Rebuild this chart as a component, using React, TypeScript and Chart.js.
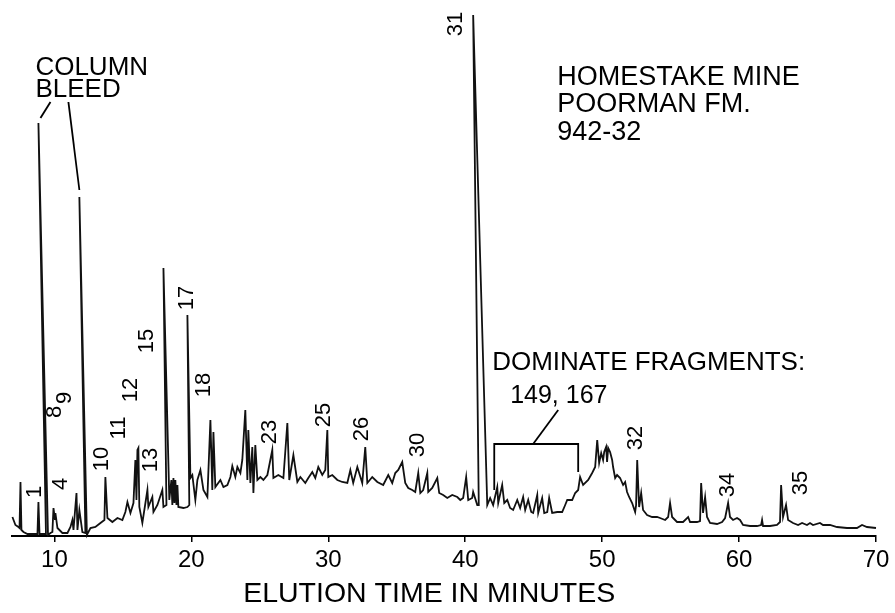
import React, { useEffect, useRef } from 'react';
import { Chart, registerables } from 'chart.js';

Chart.register(...registerables);

const FONT = '"Liberation Sans", Arial, Helvetica, sans-serif';

// x-axis tick labels (minutes)
const xTicks = [10, 20, 30, 40, 50, 60, 70];

// elution time (minutes) of each traced point of the chromatogram
const elutionMinutes = [
  6.93, 7.15, 7.37, 7.45, 7.52, 7.59, 7.74, 8.03, 8.47, 8.76,
  8.83, 8.91, 9.12, 9.38, 8.83, 9.53, 9.71, 9.85, 9.93, 10.04,
  10.07, 10.22, 10.58, 10.95, 11.17, 11.31, 11.39, 11.61, 11.68, 11.82,
  12.04, 12.26, 11.82, 12.37, 12.63, 12.99, 13.36, 13.65, 13.72, 13.87,
  14.23, 14.6, 14.96, 15.18, 15.33, 15.55, 15.77, 15.91, 15.99, 16.06,
  16.13, 16.2, 16.42, 16.79, 16.86, 17.15, 17.23, 17.52, 17.88, 17.96,
  18.18, 17.96, 18.39, 18.54, 18.61, 18.69, 18.76, 18.83, 18.91, 18.98,
  19.05, 19.42, 19.71, 19.85, 19.71, 19.93, 20.07, 20.29, 20.44, 20.66,
  20.88, 21.17, 21.39, 21.53, 21.61, 21.75, 22.12, 22.34, 22.63, 22.85,
  22.99, 23.21, 23.36, 23.58, 23.72, 23.94, 24.09, 24.16, 24.31, 24.45,
  24.53, 24.67, 24.82, 25.04, 25.26, 25.55, 25.91, 25.99, 26.35, 26.72,
  27.01, 27.15, 27.45, 27.74, 27.96, 28.32, 28.54, 28.83, 29.05, 29.27,
  29.56, 29.78, 29.93, 30.0, 30.29, 30.66, 31.02, 31.39, 31.61, 31.82,
  32.12, 32.48, 32.7, 32.85, 33.21, 33.58, 34.01, 34.38, 34.67, 34.89,
  35.11, 35.4, 35.62, 35.84, 36.13, 36.35, 36.57, 36.72, 36.93, 37.23,
  37.3, 37.59, 37.96, 38.1, 38.39, 38.69, 39.05, 39.42, 39.64, 39.85,
  40.07, 40.22, 40.51, 40.58, 40.88, 40.99, 40.58, 41.61, 41.82, 42.04,
  42.34, 42.41, 42.7, 42.85, 43.07, 43.28, 43.5, 43.8, 44.01, 44.23,
  44.38, 44.6, 44.82, 44.96, 45.26, 45.33, 45.62, 45.77, 45.99, 46.13,
  46.35, 46.72, 47.08, 47.3, 47.45, 47.81, 48.03, 48.25, 48.39, 48.61,
  48.98, 49.27, 49.49, 49.64, 49.78, 49.93, 50.07, 50.15, 50.29, 50.36,
  50.44, 50.58, 50.73, 50.8, 50.95, 51.09, 51.31, 51.53, 51.68, 51.82,
  51.97, 52.19, 52.41, 52.48, 52.56, 52.7, 52.85, 52.99, 53.28, 53.65,
  54.01, 54.23, 54.6, 54.82, 54.96, 55.11, 55.47, 55.91, 56.28, 56.42,
  56.93, 57.15, 57.23, 57.37, 57.52, 57.66, 57.88, 58.39, 58.76, 58.98,
  59.2, 59.34, 59.56, 59.85, 60.07, 60.29, 60.8, 61.31, 61.61, 61.68,
  61.75, 62.26, 62.77, 62.99, 63.07, 63.21, 63.43, 63.58, 63.94, 64.31,
  64.6, 64.96, 65.18, 65.4, 65.91, 66.13, 66.64, 67.15, 67.88, 68.61,
  68.98, 69.34, 70.0,
];

// detector response (arbitrary units) at each traced point
const detectorResponse = [
  19, 11, 9, 8, 54, 6, 4, 2, 2, 2,
  34, 2, 2, 2, 413, 1, 3, 4, 28, 16,
  23, 8, 3, 3, 9, 16, 6, 43, 6, 26,
  4, 3, 339, 1, 8, 9, 13, 16, 59, 18,
  14, 18, 16, 24, 34, 23, 33, 76, 36, 86,
  88, 29, 13, 46, 29, 39, 24, 31, 46, 29,
  31, 268, 36, 56, 31, 58, 33, 56, 31, 51,
  29, 28, 29, 31, 221, 58, 61, 36, 56, 66,
  46, 39, 116, 46, 104, 49, 56, 49, 51, 59,
  70, 59, 69, 63, 76, 126, 56, 106, 53, 89,
  43, 91, 56, 59, 56, 61, 86, 58, 61, 58,
  113, 56, 81, 54, 59, 53, 58, 64, 58, 69,
  61, 66, 106, 59, 61, 56, 54, 53, 66, 53,
  69, 53, 89, 53, 59, 54, 51, 61, 53, 63,
  66, 74, 53, 48, 46, 44, 63, 43, 46, 63,
  44, 48, 58, 43, 41, 38, 41, 39, 36, 38,
  59, 36, 38, 44, 31, 31, 521, 31, 38, 31,
  49, 33, 51, 33, 36, 28, 26, 36, 28, 39,
  26, 36, 24, 23, 41, 23, 38, 23, 24, 38,
  23, 24, 24, 31, 36, 36, 43, 46, 59, 51,
  56, 63, 69, 96, 73, 83, 76, 84, 89, 74,
  88, 84, 76, 69, 58, 61, 58, 51, 54, 44,
  39, 33, 24, 31, 76, 29, 43, 26, 21, 19,
  19, 18, 16, 19, 33, 19, 14, 14, 19, 14,
  14, 15, 53, 23, 39, 19, 13, 12, 14, 18,
  33, 19, 16, 18, 16, 11, 10, 10, 11, 16,
  10, 10, 11, 14, 51, 19, 31, 16, 13, 11,
  13, 11, 13, 11, 13, 11, 11, 9, 8, 8,
  11, 9, 8,
];

// peak numbers written beside the trace
const peakNames = ['1', '4', '8', '9', '10', '11', '12', '13', '15', '17', '18', '23', '25', '26', '30', '31', '32', '34', '35'];
const bleedLines = ['COLUMN', 'BLEED'];
const sampleLines = ['HOMESTAKE MINE', 'POORMAN FM.', '942-32'];
const fragmentLines = ['DOMINATE FRAGMENTS:', '149, 167'];
const axisTitle = 'ELUTION TIME IN MINUTES';

export default function App() {
  const canvasRef = useRef<HTMLCanvasElement | null>(null);

  useEffect(() => {
    const canvas = canvasRef.current;
    if (!canvas) return;

    // annotation placement, in data coordinates [minutes, response]
    const peakLabelAt: [number, number][] = [
      [8.54, 44], [10.51, 52], [10.07, 124], [10.8, 138], [13.5, 77], [14.74, 108],
      [15.55, 146], [17.08, 76], [16.72, 195], [19.71, 238], [20.95, 151], [25.77, 104],
      [29.71, 121], [32.48, 107], [36.57, 91], [39.34, 512], [52.48, 98], [59.2, 51], [64.53, 53],
    ];
    const layout = {
      bleed: { t: 8.61, h: [461, 439] },
      sample: { t: 46.72, h: [451, 424, 396] },
      fragments: { t: [41.97, 43.28], h: [166, 133] },
      title: { t: 37.37 },
      leaders: [
        [[9.71, 434], [8.98, 418]],
        [[11.02, 434], [11.82, 346]],
        [[42.12, 46], [42.12, 92], [48.25, 92], [48.25, 64]],
        [[44.96, 92], [46.79, 126]],
      ] as [number, number][][],
    };

    const annotate = {
      id: 'chromAnnotations',
      afterDatasetsDraw(chart: any) {
        const { ctx, scales } = chart;
        const X = (t: number) => scales.x.getPixelForValue(t);
        const Y = (h: number) => scales.y.getPixelForValue(h);
        ctx.save();
        ctx.fillStyle = '#000';
        ctx.strokeStyle = '#000';

        ctx.font = `22px ${FONT}`;
        ctx.textAlign = 'center';
        ctx.textBaseline = 'middle';
        peakNames.forEach((name, i) => {
          const [t, h] = peakLabelAt[i];
          ctx.save();
          ctx.translate(X(t), Y(h));
          ctx.rotate(-Math.PI / 2);
          ctx.fillText(name, 0, 0);
          ctx.restore();
        });

        // axis title, below the tick labels
        ctx.font = `28.5px ${FONT}`;
        ctx.fillText(axisTitle, X(layout.title.t), scales.x.bottom - 19);

        ctx.textAlign = 'left';
        ctx.textBaseline = 'alphabetic';
        ctx.font = `26px ${FONT}`;
        bleedLines.forEach((s, i) => ctx.fillText(s, X(layout.bleed.t), Y(layout.bleed.h[i])));
        ctx.font = `27px ${FONT}`;
        sampleLines.forEach((s, i) => ctx.fillText(s, X(layout.sample.t), Y(layout.sample.h[i])));
        ctx.font = `26px ${FONT}`;
        ctx.fillText(fragmentLines[0], X(layout.fragments.t[0]), Y(layout.fragments.h[0]));
        ctx.font = `25px ${FONT}`;
        ctx.fillText(fragmentLines[1], X(layout.fragments.t[1]), Y(layout.fragments.h[1]));

        ctx.lineWidth = 1.8;
        layout.leaders.forEach((pts) => {
          ctx.beginPath();
          pts.forEach(([t, h], k) => (k === 0 ? ctx.moveTo(X(t), Y(h)) : ctx.lineTo(X(t), Y(h))));
          ctx.stroke();
        });
        ctx.restore();
      },
    };

    const chart = new Chart(canvas, {
      type: 'line',
      data: {
        datasets: [
          {
            data: elutionMinutes.map((t, i) => ({ x: t, y: detectorResponse[i] })),
            borderColor: '#111',
            borderWidth: 1.8,
            pointRadius: 0,
            tension: 0,
            fill: false,
            clip: false as any,
          },
        ],
      },
      options: {
        responsive: false,
        devicePixelRatio: 1,
        animation: false,
        layout: { padding: { top: 15, left: 12, right: 19, bottom: 0 } },
        plugins: { legend: { display: false }, tooltip: { enabled: false } },
        scales: {
          x: {
            type: 'linear',
            min: 6.9,
            max: 70,
            afterBuildTicks: (s: any) => {
              s.ticks = xTicks.map((v) => ({ value: v }));
            },
            afterFit: (s: any) => {
              s.height = 77;
            },
            ticks: {
              autoSkip: false,
              maxRotation: 0,
              padding: 4,
              color: '#000',
              font: { family: FONT, size: 24 },
              callback: (v: any) => String(v),
            },
            grid: { display: true, drawOnChartArea: false, drawTicks: true, tickLength: 6, color: '#000', lineWidth: 1.5 },
            border: { display: true, color: '#000', width: 2 },
            title: { display: false },
          },
          y: { display: false, min: 0, max: 521 },
        },
      },
      plugins: [annotate],
    });

    return () => chart.destroy();
  }, []);

  return (
    <div style={{ position: 'absolute', left: 0, top: 0, width: 895, height: 613, background: '#fff' }}>
      <canvas ref={canvasRef} width={895} height={613} style={{ display: 'block' }} />
    </div>
  );
}
